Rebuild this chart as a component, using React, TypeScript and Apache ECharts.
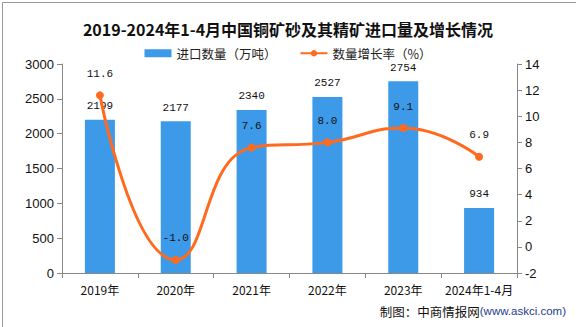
import React, { useEffect, useRef } from "react";
import * as echarts from "echarts";

const categories = ["2019年", "2020年", "2021年", "2022年", "2023年", "2024年1-4月"];
const importVolume = [2199, 2177, 2340, 2527, 2754, 934];
const growthRate = [11.6, -1.0, 7.6, 8.0, 9.1, 6.9];
const leftTicks = [0, 3000, 500];
const rightTicks = [-2, 14, 2];

export default function App() {
  const ref = useRef<HTMLDivElement>(null);
  useEffect(() => {
    if (!ref.current) return;
    const chart = echarts.init(ref.current, undefined, { renderer: "svg" });
    const axisLine = { show: true, lineStyle: { color: "#888888", width: 1 } };
    chart.setOption({
      animation: false,
      backgroundColor: "#ffffff",
      title: {
        text: "2019-2024年1-4月中国铜矿砂及其精矿进口量及增长情况",
        left: "center",
        top: 16,
        textStyle: {
          fontFamily: "Noto Sans CJK SC",
          fontSize: 16,
          fontWeight: "bold",
          color: "#111111",
        },
      },
      legend: {
        top: 42,
        left: "center",
        itemGap: 23,
        itemWidth: 27,
        itemHeight: 8,
        textStyle: { fontFamily: "Noto Sans CJK SC", fontSize: 12.5, color: "#222" },
        data: [
          { name: "进口数量（万吨）", icon: "rect" },
          { name: "数量增长率（%）" },
        ],
      },
      grid: { left: 62, right: 59, top: 64, bottom: 54, containLabel: false },
      xAxis: {
        type: "category",
        data: categories,
        axisLine,
        axisTick: { show: true, lineStyle: { color: "#888" }, length: 5 },
        axisLabel: { color: "#111", fontSize: 12, fontFamily: "Noto Sans CJK SC", margin: 10, interval: 0 },
      },
      yAxis: [
        {
          type: "value",
          min: leftTicks[0],
          max: leftTicks[1],
          interval: leftTicks[2],
          axisLine,
          axisTick: { show: true, lineStyle: { color: "#888" }, length: 5 },
          splitLine: { show: false },
          axisLabel: { color: "#111", fontSize: 13, fontFamily: "Liberation Sans", formatter: (v: number) => String(v) },
        },
        {
          type: "value",
          min: rightTicks[0],
          max: rightTicks[1],
          interval: rightTicks[2],
          axisLine,
          axisTick: { show: true, lineStyle: { color: "#888" }, length: 5 },
          splitLine: { show: false },
          axisLabel: { color: "#111", fontSize: 13, fontFamily: "Liberation Sans", formatter: (v: number) => String(v) },
        },
      ],
      series: [
        {
          name: "进口数量（万吨）",
          type: "bar",
          data: importVolume,
          barWidth: 30,
          itemStyle: { color: "#3d9ae8" },
          label: {
            show: true,
            position: "top",
            distance: 8,
            color: "#111",
            fontSize: 11,
            fontFamily: "Liberation Mono",
          },
        },
        {
          name: "数量增长率（%）",
          type: "line",
          yAxisIndex: 1,
          data: growthRate,
          smooth: true,
          symbol: "circle",
          symbolSize: 8,
          itemStyle: { color: "#ff6a1f" },
          lineStyle: { color: "#ff6a1f", width: 3 },
          label: {
            show: true,
            position: "top",
            distance: 12,
            color: "#111",
            fontSize: 11,
            fontFamily: "Liberation Mono",
            formatter: (p: any) => Number(p.value).toFixed(1),
          },
        },
      ],
      graphic: [
        {
          type: "rect",
          left: 0,
          top: 0,
          shape: { width: 575, height: 326 },
          style: { fill: "none", stroke: "#999999", lineWidth: 1 },
          silent: true,
        },
        {
          type: "text",
          right: 10,
          top: 305,
          style: {
            rich: {
              a: { fontSize: 12.5, fill: "#111", fontFamily: "Noto Sans CJK SC" },
              b: { fontSize: 11.5, fill: "#1f3b8f", fontFamily: "Liberation Sans" },
            },
            text: "{a|制图：中商情报网}{b|(www.askci.com)}",
          },
        },
      ],
    });
    return () => chart.dispose();
  }, []);
  return <div ref={ref} style={{ width: 576, height: 327, position: "absolute", left: 0, top: 0 }} />;
}
